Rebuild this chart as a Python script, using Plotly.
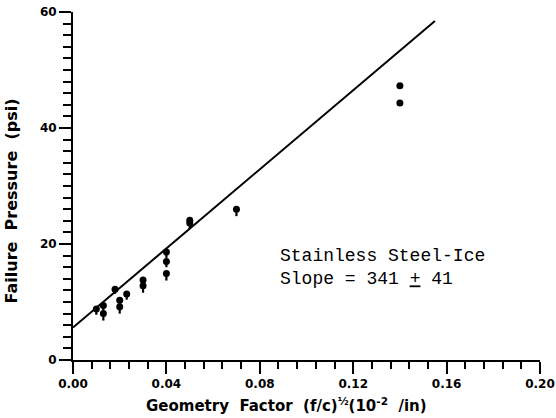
import plotly.graph_objects as go

# Data
geom_factor = [0.010, 0.013, 0.013, 0.018, 0.020, 0.020, 0.023, 0.030, 0.030,
               0.040, 0.040, 0.040, 0.050, 0.050, 0.070, 0.140, 0.140]
failure_psi = [8.8, 9.4, 8.0, 12.2, 10.3, 9.2, 11.4, 13.8, 12.8,
               18.6, 17.0, 14.9, 24.1, 23.6, 26.0, 47.3, 44.3]
err_minus = [1.0, 1.0, 1.2, 0.8, 1.0, 1.2, 1.0, 1.0, 1.2,
             1.0, 1.0, 1.2, 1.0, 1.0, 1.2, 0.0, 0.0]

fit_intercept = 5.6
fit_slope = 341
fit_x = [0.0, 0.155]
fit_y = [fit_intercept + fit_slope * x for x in fit_x]

x_ticks = [0.00, 0.04, 0.08, 0.12, 0.16, 0.20]
x_labels = ["0.00", "0.04", "0.08", "0.12", "0.16", "0.20"]
y_ticks = [0, 20, 40, 60]

fig = go.Figure()
fig.add_trace(go.Scatter(
    x=fit_x, y=fit_y, mode="lines",
    line=dict(color="black", width=2), showlegend=False, hoverinfo="skip"))
fig.add_trace(go.Scatter(
    x=geom_factor, y=failure_psi, mode="markers",
    marker=dict(color="black", size=7, symbol="circle"),
    error_y=dict(type="data", symmetric=False, array=[0] * len(err_minus),
                 arrayminus=err_minus, color="black", thickness=2.2, width=0),
    showlegend=False, cliponaxis=False))

axis_font = dict(family="DejaVu Sans", size=12, color="black", weight="bold")

fig.update_xaxes(
    range=[0, 0.2], tickvals=x_ticks, ticktext=x_labels, automargin=False,
    ticks="outside", ticklen=12, tickwidth=2, tickcolor="black",
    showline=True, linecolor="black", linewidth=2,
    showgrid=False, zeroline=False, tickfont=axis_font,
    minor=dict(dtick=0.008, tick0=0, ticks="outside", ticklen=7,
               tickwidth=2, tickcolor="black", showgrid=False))
fig.update_yaxes(
    range=[0, 60], tickvals=y_ticks, automargin=False,
    ticks="outside", ticklen=12, tickwidth=2, tickcolor="black",
    showline=True, linecolor="black", linewidth=2,
    showgrid=False, zeroline=False, tickfont=axis_font,
    minor=dict(dtick=2, tick0=0, ticks="outside", ticklen=8,
               tickwidth=2, tickcolor="black", showgrid=False))

fig.add_annotation(
    xref="paper", yref="paper", x=-0.131, y=0.458,
    text="Failure  Pressure  (psi)", textangle=-90, showarrow=False,
    font=dict(family="DejaVu Sans", size=16, color="black", weight="bold"),
    xanchor="center", yanchor="middle")
fig.add_annotation(
    xref="paper", yref="paper", x=0.458, y=-0.095,
    text="Geometry  Factor  (f/c)<sup>½</sup>(10<sup>-2</sup>  /in)",
    showarrow=False,
    font=dict(family="DejaVu Sans", size=15, color="black", weight=600),
    xanchor="center", yanchor="top")
fig.add_annotation(
    xref="x", yref="y", x=0.0878, y=20.0,
    text="Stainless Steel-Ice<br>Slope = 341 <u>+</u> 41",
    showarrow=False, align="left", xanchor="left", yanchor="top",
    font=dict(family="Liberation Mono", size=18, color="black"))

fig.update_layout(
    width=556, height=418,
    margin=dict(l=73, r=16, t=12, b=58),
    paper_bgcolor="white", plot_bgcolor="white")

fig.write_html("out.html", config={"displayModeBar": False},
               post_script="document.body.style.margin='0';document.body.style.overflow='hidden';")
